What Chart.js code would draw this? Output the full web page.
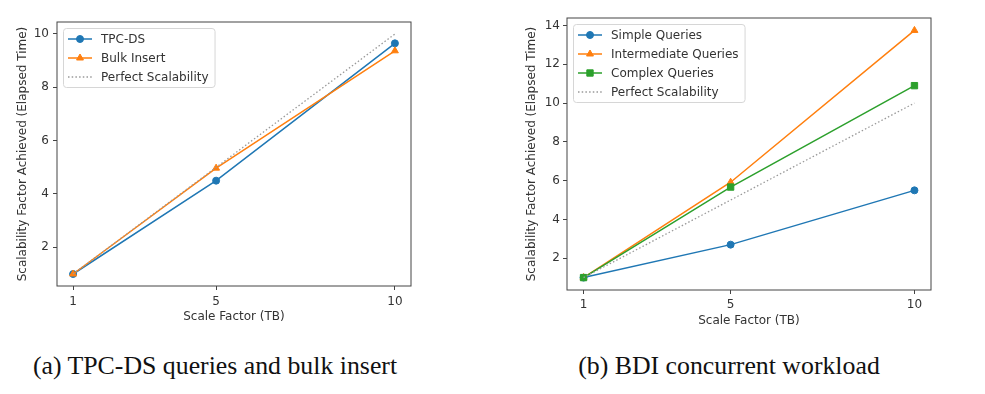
<!DOCTYPE html>
<html>
<head>
<meta charset="utf-8">
<script src="https://cdn.jsdelivr.net/npm/chart.js@4.4.0/dist/chart.umd.min.js"></script>
<style>
  body { margin: 0; background: #fff; width: 985px; height: 394px; position: relative; overflow: hidden; }
  .box { position: absolute; }
  .caption { position: absolute; font-family: "Liberation Serif", "DejaVu Serif", serif; font-size: 25.8px; color: #111; white-space: nowrap; transform: translate(-50%, -50%); }
</style>
</head>
<body>
<div class="box" style="left:0;top:0;width:430px;height:335px;"><canvas id="chartA"></canvas></div>
<div class="box" style="left:500px;top:0;width:460px;height:340px;"><canvas id="chartB"></canvas></div>
<div class="caption" style="left:215px;top:365.5px;">(a) TPC-DS queries and bulk insert</div>
<div class="caption" style="left:729px;top:365.5px;">(b) BDI concurrent workload</div>
<script>
// values
const scaleFactors = [1, 5, 10];
const xTicks = [1, 5, 10];

const tpcds = [1, 4.5, 9.65];
const bulkInsert = [1, 4.97, 9.37];
const perfect = [1, 5, 10];
const leftYTicks = [2, 4, 6, 8, 10];

const simpleQueries = [1, 2.7, 5.5];
const intermediateQueries = [1, 5.92, 13.75];
const complexQueries = [1, 5.67, 10.9];
const rightYTicks = [2, 4, 6, 8, 10, 12, 14];

const BLUE = '#1f77b4', ORANGE = '#ff7f0e', GREEN = '#2ca02c', GRAY = '#999999';
const FONT = 'DejaVu Sans';
const FS = 12;

Chart.defaults.font.family = FONT;
Chart.defaults.font.size = FS;
Chart.defaults.color = '#333';

function pts(vals) {
    return scaleFactors.map((x, i) => ({ x: x, y: vals[i] }));
}

function series(label, vals, color, style, idx, total) {
    return {
        label: label,
        data: pts(vals),
        borderColor: color,
        backgroundColor: color,
        borderWidth: 1.5,
        pointStyle: style,
        pointRadius: style === 'rect' ? 4.5 : (style === 'triangle' ? 4 : 3.5),
        pointBorderWidth: 1,
        pointBackgroundColor: color,
        pointBorderColor: color,
        tension: 0,
        order: total - idx
    };
}

function perfectLine(idx, total) {
    return {
        label: 'Perfect Scalability',
        data: pts(perfect),
        borderColor: GRAY,
        borderWidth: 1.3,
        borderDash: [1.5, 2.2],
        pointRadius: 0,
        tension: 0,
        order: total - idx
    };
}

// frame round the plot and a matplotlib-like legend in the upper left corner
const framePlugin = {
    id: 'frame',
    afterDraw(chart) {
        const { ctx, chartArea: a } = chart;
        ctx.save();
        ctx.strokeStyle = '#444';
        ctx.lineWidth = 1;
        ctx.strokeRect(a.left, a.top, a.right - a.left, a.bottom - a.top);

        const sets = chart.data.datasets;
        ctx.font = FS + 'px "' + FONT + '"';
        const textW = Math.max(...sets.map(d => ctx.measureText(d.label).width));
        const x = a.left + 6, y = a.top + 6;
        const w = 38 + textW + 6, h = 21 + (sets.length - 1) * 19;
        ctx.beginPath();
        if (ctx.roundRect) ctx.roundRect(x + 0.5, y + 0.5, w, h, 3); else ctx.rect(x + 0.5, y + 0.5, w, h);
        ctx.fillStyle = 'rgba(255,255,255,0.85)';
        ctx.fill();
        ctx.strokeStyle = '#d6d6d6';
        ctx.stroke();

        sets.forEach((d, i) => {
            const cy = y + 11 + i * 19;
            ctx.save();
            ctx.strokeStyle = d.borderColor;
            ctx.lineWidth = d.borderWidth;
            if (d.borderDash) ctx.setLineDash(d.borderDash);
            ctx.beginPath();
            ctx.moveTo(x + 5, cy);
            ctx.lineTo(x + 29, cy);
            ctx.stroke();
            ctx.restore();
            if (d.pointRadius > 0) {
                ctx.fillStyle = d.pointBackgroundColor;
                ctx.strokeStyle = d.pointBorderColor;
                ctx.lineWidth = 1;
                Chart.helpers.drawPoint(ctx, { pointStyle: d.pointStyle, radius: d.pointRadius, borderWidth: 1, rotation: 0 }, x + 17, cy);
            }
            ctx.fillStyle = '#333';
            ctx.textBaseline = 'middle';
            ctx.textAlign = 'left';
            ctx.fillText(d.label, x + 38, cy + 0.5);
        });
        ctx.restore();
    }
};

function makeChart(id, datasets, yMin, yMax, yTicks, pad, yWidth, yTickPad, xTickPad) {
    const ctx = document.getElementById(id).getContext('2d');
    return new Chart(ctx, {
        type: 'line',
        data: { datasets: datasets },
        options: {
            responsive: true,
            maintainAspectRatio: false,
            animation: false,
            layout: { padding: pad },
            plugins: { legend: { display: false }, tooltip: { enabled: false } },
            scales: {
                x: {
                    type: 'linear',
                    min: 0.55,
                    max: 10.45,
                    afterBuildTicks: s => { s.ticks = xTicks.map(v => ({ value: v })); },
                    afterFit: s => { s.height = 40; },
                    grid: { display: true, drawOnChartArea: false, drawTicks: true, tickLength: 4, color: '#444' },
                    border: { display: false },
                    ticks: { padding: xTickPad, maxRotation: 0, autoSkip: false, color: '#333' },
                    title: { display: true, text: 'Scale Factor (TB)', color: '#333', padding: { top: 0, bottom: 2 } }
                },
                y: {
                    type: 'linear',
                    min: yMin,
                    max: yMax,
                    afterBuildTicks: s => { s.ticks = yTicks.map(v => ({ value: v })); },
                    afterFit: s => { s.width = yWidth; },
                    grid: { display: true, drawOnChartArea: false, drawTicks: true, tickLength: 4, color: '#444' },
                    border: { display: false },
                    ticks: { padding: yTickPad, autoSkip: false, color: '#333' },
                    title: { display: true, text: 'Scalability Factor Achieved (Elapsed Time)', color: '#333', padding: { top: 0, bottom: 0 } }
                }
            }
        },
        plugins: [framePlugin]
    });
}

makeChart('chartA', [
    series('TPC-DS', tpcds, BLUE, 'circle', 0, 3),
    series('Bulk Insert', bulkInsert, ORANGE, 'triangle', 1, 3),
    perfectLine(2, 3)
], 0.55, 10.45, leftYTicks, { left: 16, right: 19, top: 22, bottom: 9 }, 41, 4, 5);

makeChart('chartB', [
    series('Simple Queries', simpleQueries, BLUE, 'circle', 0, 4),
    series('Intermediate Queries', intermediateQueries, ORANGE, 'triangle', 1, 4),
    series('Complex Queries', complexQueries, GREEN, 'rect', 2, 4),
    perfectLine(3, 4)
], 0.36, 14.39, rightYTicks, { left: 25, right: 29, top: 18, bottom: 10 }, 42, 3, 4);
</script>
</body>
</html>
